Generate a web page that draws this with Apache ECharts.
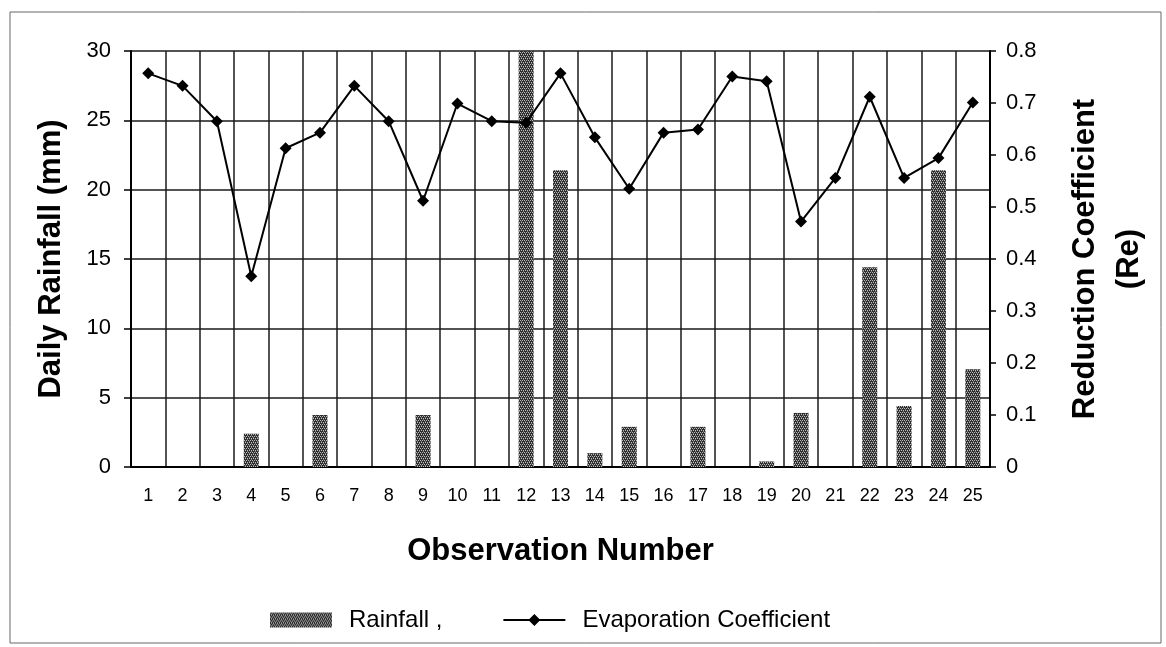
<!DOCTYPE html>
<html>
<head>
<meta charset="utf-8">
<script src="https://cdn.jsdelivr.net/npm/echarts@6/dist/echarts.min.js"></script>
<style>
    html, body { margin: 0; padding: 0; background: #fff; }
    #chart { width: 1166px; height: 647px; }
</style>
</head>
<body>
<div id="chart"></div>
<script>
// observation numbers 1..25
const observations = ['1', '2', '3', '4', '5', '6', '7', '8', '9', '10', '11', '12', '13',
    '14', '15', '16', '17', '18', '19', '20', '21', '22', '23', '24', '25'];
// daily rainfall (mm)
const rainfall = [0, 0, 0, 2.4, 0, 3.75, 0, 0, 3.75, 0, 0, 30, 21.4,
    1.0, 2.9, 0, 2.9, 0, 0.4, 3.9, 0, 14.4, 4.4, 21.4, 7.05];
// evaporation / reduction coefficient (Re)
const coefficient = [0.757, 0.733, 0.665, 0.367, 0.613, 0.643, 0.733, 0.665, 0.512, 0.699, 0.665, 0.662, 0.757,
    0.634, 0.535, 0.643, 0.649, 0.751, 0.742, 0.472, 0.556, 0.712, 0.556, 0.594, 0.701];
const rainTicks = { min: 0, max: 30, interval: 5 };
const coefTicks = { min: 0, max: 0.8, interval: 0.1 };

// checkered fill like the printed bars
const makePattern = () => {
    const c = document.createElement('canvas');
    c.width = 4;
    c.height = 4;
    const ctx = c.getContext('2d');
    ctx.fillStyle = '#2e2e2e';
    ctx.fillRect(0, 0, 4, 4);
    ctx.fillStyle = '#bdbdbd';
    ctx.fillRect(0, 0, 1, 1);
    ctx.fillRect(2, 0, 1, 1);
    ctx.fillRect(1, 2, 1, 1);
    ctx.fillRect(3, 2, 1, 1);
    ctx.fillStyle = '#777';
    ctx.fillRect(1, 1, 1, 1);
    ctx.fillRect(3, 3, 1, 1);
    return c;
};
const barFill = { image: makePattern(), repeat: 'repeat' };

const font = 'Liberation Sans, Arial, sans-serif';
const chart = echarts.init(document.getElementById('chart'));

const option = {
    backgroundColor: '#fff',
    animation: false,
    textStyle: { fontFamily: font, color: '#000' },
    grid: {
        left: 131,
        right: 176,
        top: 51,
        bottom: 180
    },
    graphic: [{
        type: 'rect',
        shape: { x: 10, y: 12, width: 1151, height: 631 },
        style: { fill: 'none', stroke: '#666', lineWidth: 1 },
        silent: true
    }],
    legend: {
        left: 265,
        top: 603,
        itemWidth: 62,
        itemHeight: 15,
        itemGap: 60,
        textStyle: { fontSize: 24, color: '#000', fontFamily: font, padding: [0, 0, 0, 12] },
        formatter: function (name) {
            return name === 'Rainfall' ? 'Rainfall ,' : name;
        },
        data: [
            { name: 'Rainfall', icon: 'rect' },
            { name: 'Evaporation Coefficient' }
        ]
    },
    xAxis: {
        type: 'category',
        data: observations,
        name: 'Observation Number',
        nameLocation: 'middle',
        nameGap: 69,
        nameTextStyle: { fontSize: 31, fontWeight: 'bold', color: '#000' },
        axisLine: { lineStyle: { color: '#000', width: 2 } },
        axisTick: { length: 5, lineStyle: { color: '#000', width: 1.5 } },
        axisLabel: { fontSize: 18, color: '#000', margin: 20 },
        splitLine: { show: true, lineStyle: { color: '#1a1a1a', width: 1.5 } }
    },
    yAxis: [
        {
            type: 'value',
            min: rainTicks.min,
            max: rainTicks.max,
            interval: rainTicks.interval,
            name: 'Daily Rainfall (mm)',
            nameLocation: 'middle',
            nameGap: 64,
            nameTextStyle: { fontSize: 31, fontWeight: 'bold', color: '#000' },
            axisLine: { show: true, lineStyle: { color: '#000', width: 2 } },
            axisTick: { show: true, length: 7, lineStyle: { color: '#000', width: 1.5 } },
            axisLabel: { fontSize: 22, color: '#000', margin: 20 },
            splitLine: { show: true, lineStyle: { color: '#1a1a1a', width: 1.5 } }
        },
        {
            type: 'value',
            position: 'right',
            min: coefTicks.min,
            max: coefTicks.max,
            interval: coefTicks.interval,
            name: 'Reduction Coefficient\n(Re)',
            nameLocation: 'middle',
            nameGap: 73,
            nameTextStyle: { fontSize: 31, fontWeight: 'bold', color: '#000', lineHeight: 44 },
            axisLine: { show: true, lineStyle: { color: '#000', width: 2 } },
            axisTick: { show: true, length: 6, lineStyle: { color: '#000', width: 1.5 } },
            axisLabel: { fontSize: 22, color: '#000', margin: 16 },
            splitLine: { show: false }
        }
    ],
    series: [
        {
            name: 'Rainfall',
            type: 'bar',
            yAxisIndex: 0,
            barWidth: 15,
            data: rainfall,
            itemStyle: { color: barFill }
        },
        {
            name: 'Evaporation Coefficient',
            type: 'line',
            yAxisIndex: 1,
            data: coefficient,
            symbol: 'diamond',
            symbolSize: 12,
            lineStyle: { color: '#000', width: 2 },
            itemStyle: { color: '#000' }
        }
    ]
};
chart.setOption(option);
</script>
</body>
</html>
